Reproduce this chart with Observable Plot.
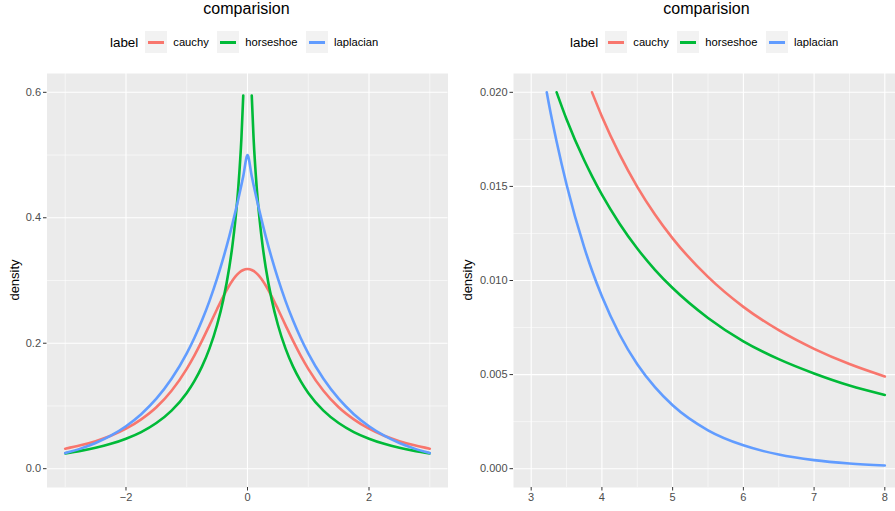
<!DOCTYPE html>
<html>
<head>
<meta charset="utf-8">
<script src="https://cdn.jsdelivr.net/npm/d3@7"></script>
<script src="https://cdn.jsdelivr.net/npm/@observablehq/plot@0.6"></script>
<style>
html, body { margin: 0; padding: 0; background: #ffffff; }
#root { position: relative; width: 895px; height: 511px; overflow: hidden; font-family: "Liberation Sans", Arial, Helvetica, sans-serif; color: #000; }
.title { position: absolute; top: -1px; font-size: 16px; line-height: 20px; transform: translateX(-50%); white-space: nowrap; }
.legend { position: absolute; top: 31px; height: 22px; display: flex; align-items: center; white-space: nowrap; }
.legend .lt { font-size: 13.4px; margin-right: 7px; }
.legend .key { width: 22px; height: 22px; background: #F2F2F2; position: relative; }
.legend .key i { position: absolute; left: 3px; right: 3px; top: 9.5px; height: 3px; }
.legend .lab { font-size: 11.2px; margin-left: 6px; margin-right: 8.5px; }
.ytitle { position: absolute; font-size: 13px; transform: translate(-50%, -50%) rotate(-90deg); white-space: nowrap; }
.plotbox { position: absolute; top: 60px; }
.plotbox svg { max-width: none !important; }
</style>
</head>
<body>
<div id="root"></div>
<script>
// ---- data ----
const title = "comparision";
const legendTitle = "label";
const yTitle = "density";
const labels = ["cauchy", "horseshoe", "laplacian"];
const colors = ["#F8766D", "#00BA38", "#619CFF"];

// left panel (x from -3 to 3)
const leftX = [-3, -2.75, -2.5, -2.25, -2, -1.75, -1.5, -1.25, -1, -0.875, -0.75, -0.625, -0.5, -0.4, -0.3, -0.25, -0.2, -0.15, -0.1, -0.07,
  0,
  0.07, 0.1, 0.15, 0.2, 0.25, 0.3, 0.4, 0.5, 0.625, 0.75, 0.875, 1, 1.25, 1.5, 1.75, 2, 2.25, 2.5, 2.75, 3];
const leftCauchy = [0.0318, 0.0372, 0.0439, 0.0524, 0.0637, 0.0786, 0.0979, 0.1242, 0.1592, 0.1803, 0.2037, 0.2289, 0.2546, 0.2744, 0.2920, 0.2996, 0.3061, 0.3113, 0.3152, 0.3168,
  0.3183,
  0.3168, 0.3152, 0.3113, 0.3061, 0.2996, 0.2920, 0.2744, 0.2546, 0.2289, 0.2037, 0.1803, 0.1592, 0.1242, 0.0979, 0.0786, 0.0637, 0.0524, 0.0439, 0.0372, 0.0318];
const leftHorseshoe = [0.0244, 0.0284, 0.0333, 0.0396, 0.0478, 0.0584, 0.0728, 0.0926, 0.1208, 0.1396, 0.1627, 0.1918, 0.2295, 0.2687, 0.3208, 0.3545, 0.3961, 0.4503, 0.5270, 0.5947,
  null,
  0.5947, 0.5270, 0.4503, 0.3961, 0.3545, 0.3208, 0.2687, 0.2295, 0.1918, 0.1627, 0.1396, 0.1208, 0.0926, 0.0728, 0.0584, 0.0478, 0.0396, 0.0333, 0.0284, 0.0244];
const leftLaplacian = [0.0249, 0.0320, 0.0410, 0.0527, 0.0677, 0.0869, 0.1116, 0.1433, 0.1839, 0.2084, 0.2362, 0.2676, 0.3033, 0.3352, 0.3704, 0.3894, 0.4094, 0.4304, 0.4524, 0.4662,
  0.5000,
  0.4662, 0.4524, 0.4304, 0.4094, 0.3894, 0.3704, 0.3352, 0.3033, 0.2676, 0.2362, 0.2084, 0.1839, 0.1433, 0.1116, 0.0869, 0.0677, 0.0527, 0.0410, 0.0320, 0.0249];

// right panel (x from 3 to 8, density <= 0.02)
const rightX = [3.22, 3.25, 3.36, 3.5, 3.75, 3.86, 4, 4.25, 4.5, 4.75, 5, 5.5, 6, 6.5, 7, 7.5, 8];
const rightCauchy = [null, null, null, null, null, 0.0200, 0.01872, 0.01670, 0.01498, 0.01351, 0.01224, 0.01019, 0.00860, 0.00736, 0.00637, 0.00556, 0.00490];
const rightHorseshoe = [null, null, 0.0200, 0.01857, 0.01639, 0.01555, 0.01456, 0.01302, 0.01170, 0.01057, 0.00960, 0.00801, 0.00677, 0.00582, 0.00506, 0.00442, 0.00392];
const rightLaplacian = [0.0200, 0.01939, 0.01737, 0.01510, 0.01176, 0.01053, 0.00916, 0.00713, 0.00555, 0.00433, 0.00337, 0.00204, 0.00124, 0.000752, 0.000456, 0.000277, 0.000168];

// ticks
const leftXMajor = [-2, 0, 2];
const leftXMinor = [-3, -1, 1, 3];
const leftYMajor = [0, 0.2, 0.4, 0.6];
const leftYMinor = [0.1, 0.3, 0.5];
const rightXMajor = [3, 4, 5, 6, 7, 8];
const rightXMinor = [3.5, 4.5, 5.5, 6.5, 7.5];
const rightYMajor = [0, 0.005, 0.01, 0.015, 0.02];
const rightYMinor = [0.0025, 0.0075, 0.0125, 0.0175];

// ---- build ----
function rows(xs, series) {
  const out = [];
  series.forEach((vals, i) => {
    xs.forEach((x, j) => out.push({x, y: vals[j], label: labels[i]}));
  });
  return out;
}

function panel(opts) {
  const data = rows(opts.xs, opts.series);
  return Plot.plot({
    width: opts.width,
    height: 451,
    marginTop: 13,
    marginBottom: 24,
    marginLeft: opts.ml,
    marginRight: opts.mr,
    style: {fontFamily: '"Liberation Sans", Arial, sans-serif', background: "transparent", overflow: "visible", maxWidth: "none"},
    x: {domain: opts.xDomain},
    y: {domain: opts.yDomain},
    color: {domain: labels, range: colors},
    marks: [
      Plot.frame({fill: "#EBEBEB", stroke: null}),
      Plot.gridX({ticks: opts.xMinor, stroke: "#ffffff", strokeOpacity: 1, strokeWidth: 0.55}),
      Plot.gridY({ticks: opts.yMinor, stroke: "#ffffff", strokeOpacity: 1, strokeWidth: 0.55}),
      Plot.gridX({ticks: opts.xMajor, stroke: "#ffffff", strokeOpacity: 1, strokeWidth: 1.1}),
      Plot.gridY({ticks: opts.yMajor, stroke: "#ffffff", strokeOpacity: 1, strokeWidth: 1.1}),
      Plot.line(data, {x: "x", y: "y", z: "label", stroke: "label", strokeWidth: 2.6, curve: "monotone-x"}),
      Plot.axisX({ticks: opts.xMajor, tickSize: 3.5, tickPadding: 2.5, fontSize: 11, stroke: "#333333", fill: "#4D4D4D", label: null, tickFormat: opts.xFormat}),
      Plot.axisY({ticks: opts.yMajor, tickSize: 3.5, tickPadding: 2.5, fontSize: 11, stroke: "#333333", fill: "#4D4D4D", label: null, tickFormat: opts.yFormat})
    ]
  });
}

const root = document.getElementById("root");

function addFigure(cfg) {
  const box = document.createElement("div");
  box.className = "plotbox";
  box.style.left = cfg.left + "px";
  box.style.width = cfg.width + "px";
  box.appendChild(panel(cfg));
  root.appendChild(box);

  const t = document.createElement("div");
  t.className = "title";
  t.style.left = cfg.titleCenter + "px";
  t.textContent = title;
  root.appendChild(t);

  const lg = document.createElement("div");
  lg.className = "legend";
  lg.style.left = cfg.legendLeft + "px";
  const lt = document.createElement("span");
  lt.className = "lt";
  lt.textContent = legendTitle;
  lg.appendChild(lt);
  labels.forEach((l, i) => {
    const k = document.createElement("div");
    k.className = "key";
    const line = document.createElement("i");
    line.style.background = colors[i];
    k.appendChild(line);
    lg.appendChild(k);
    const s = document.createElement("span");
    s.className = "lab";
    s.textContent = l;
    lg.appendChild(s);
  });
  root.appendChild(lg);

  const yt = document.createElement("div");
  yt.className = "ytitle";
  yt.style.left = cfg.yTitleX + "px";
  yt.style.top = "280px";
  yt.textContent = yTitle;
  root.appendChild(yt);
}

addFigure({
  left: 0, width: 448, ml: 46.5, mr: 0.5,
  xs: leftX, series: [leftCauchy, leftHorseshoe, leftLaplacian],
  xDomain: [-3.3, 3.3], yDomain: [-0.03, 0.63],
  xMajor: leftXMajor, xMinor: leftXMinor, yMajor: leftYMajor, yMinor: leftYMinor,
  xFormat: d3.format("d"), yFormat: d => d.toFixed(1),
  titleCenter: 246.5, legendLeft: 110, yTitleX: 13.5
});

addFigure({
  left: 448, width: 460, ml: 65, mr: 6,
  xs: rightX, series: [rightCauchy, rightHorseshoe, rightLaplacian],
  xDomain: [2.75, 8.25], yDomain: [-0.001, 0.021],
  xMajor: rightXMajor, xMinor: rightXMinor, yMajor: rightYMajor, yMinor: rightYMinor,
  xFormat: d => String(d), yFormat: d => d.toFixed(3),
  titleCenter: 706.5, legendLeft: 570, yTitleX: 466.5
});
</script>
</body>
</html>
